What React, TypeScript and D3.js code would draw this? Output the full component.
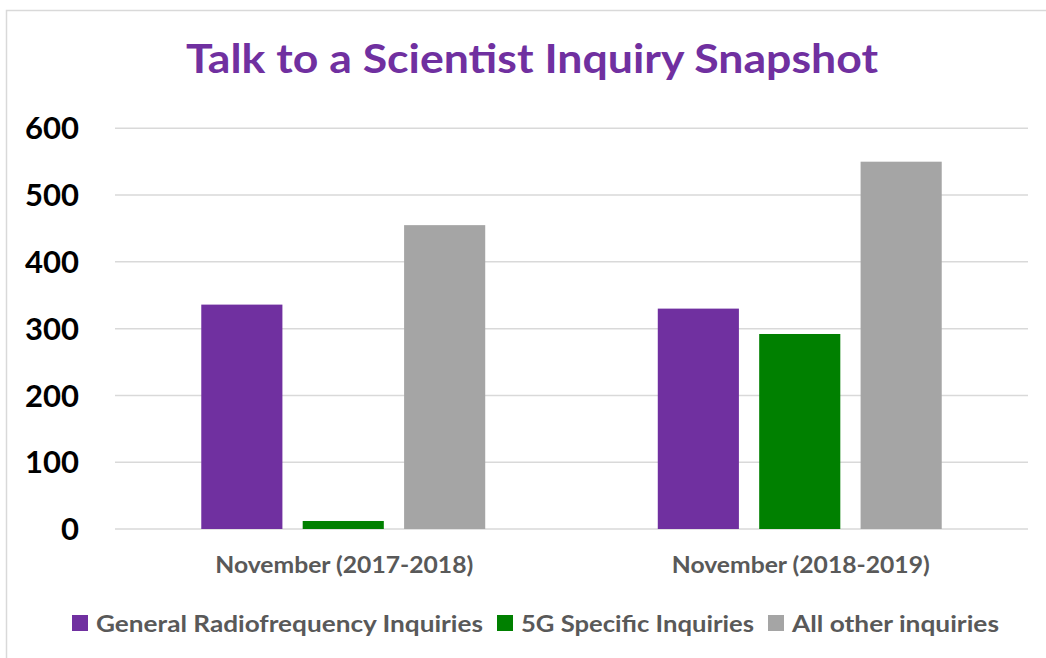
import { useEffect, useRef } from "react";
import * as d3 from "d3";

const W = 1046;
const H = 658;
const M = { top: 128.3, right: 18, bottom: 129, left: 115 };

const categories = ["November (2017-2018)", "November (2018-2019)"];
const seriesNames = ["General Radiofrequency Inquiries", "5G Specific Inquiries", "All other inquiries"];
const generalRF = [336, 330];
const fiveG = [12, 292];
const otherInq = [455, 550];
const yTicks = [0, 100, 200, 300, 400, 500, 600];
const colors = ["#7030A0", "#008000", "#A5A5A5"];
// widths the Calibri text takes in the original; Lato is narrower, so stretch to them
const legendWidths = [387, 233, 207];

const FONT = "Lato, 'Open Sans', sans-serif";

export default function App() {
  const ref = useRef<SVGSVGElement | null>(null);

  useEffect(() => {
    const svg = d3.select(ref.current);
    svg.selectAll("*").remove();

    const values = [generalRF, fiveG, otherInq];

    // frame
    svg.append("path")
      .attr("d", `M6.5,${H + 5} V10.5 H${W + 5}`)
      .attr("fill", "none")
      .attr("stroke", "#d9d9d9")
      .attr("stroke-width", 1.5);

    svg.append("text")
      .attr("x", 532)
      .attr("y", 73)
      .attr("text-anchor", "middle")
      .attr("font-family", FONT)
      .attr("font-weight", 700)
      .attr("font-size", 40)
      .attr("textLength", 692)
      .attr("lengthAdjust", "spacingAndGlyphs")
      .attr("fill", "#7030A0")
      .text("Talk to a Scientist Inquiry Snapshot");

    const y = d3.scaleLinear().domain([0, 600]).range([H - M.bottom, M.top]);
    const x0 = d3.scaleBand<string>()
      .domain(categories)
      .range([M.left, W - M.right])
      .paddingInner(0.378)
      .paddingOuter(0.189);
    const x1 = d3.scaleBand<string>()
      .domain(seriesNames)
      .range([0, x0.bandwidth()])
      .paddingInner(0.2)
      .paddingOuter(0);

    const grid = svg.append("g");
    yTicks.forEach((t) => {
      grid.append("line")
        .attr("x1", M.left).attr("x2", W - M.right)
        .attr("y1", y(t)).attr("y2", y(t))
        .attr("stroke", "#d9d9d9").attr("stroke-width", 1.5);
      grid.append("text")
        .attr("x", 79).attr("y", y(t)).attr("dy", "0.36em")
        .attr("text-anchor", "end")
        .attr("font-family", FONT).attr("font-weight", 700).attr("font-size", 31)
        .attr("fill", "#000")
        .text(String(t));
    });

    seriesNames.forEach((s, si) => {
      svg.append("g")
        .selectAll("rect")
        .data(categories)
        .join("rect")
        .attr("x", (c) => (x0(c) ?? 0) + (x1(s) ?? 0))
        .attr("width", x1.bandwidth())
        .attr("y", (_, i) => y(values[si][i]))
        .attr("height", (_, i) => y(0) - y(values[si][i]))
        .attr("fill", colors[si]);
    });

    categories.forEach((c) => {
      svg.append("text")
        .attr("x", (x0(c) ?? 0) + x0.bandwidth() / 2 + 1)
        .attr("y", 573)
        .attr("text-anchor", "middle")
        .attr("font-family", FONT).attr("font-weight", 700).attr("font-size", 22)
        .attr("textLength", 258)
        .attr("lengthAdjust", "spacingAndGlyphs")
        .attr("fill", "#595959")
        .text(c);
    });

    // legend, centred under the chart
    const lg = svg.append("g");
    const items = seriesNames.map((s, i) => {
      const g = lg.append("g");
      g.append("rect").attr("width", 16).attr("height", 16).attr("y", 615).attr("fill", colors[i]);
      g.append("text")
        .attr("x", 24).attr("y", 632)
        .attr("font-family", FONT).attr("font-weight", 700).attr("font-size", 23)
        .attr("textLength", legendWidths[i])
        .attr("lengthAdjust", "spacingAndGlyphs")
        .attr("fill", "#595959")
        .text(s);
      return { g, w: 24 + legendWidths[i] };
    });
    const gap = 14;
    const total = d3.sum(items, (d) => d.w) + gap * (items.length - 1);
    let cx = 535.5 - total / 2;
    items.forEach((it) => {
      it.g.attr("transform", `translate(${cx},0)`);
      cx += it.w + gap;
    });
  }, []);

  return (
    <svg
      ref={ref}
      width={W}
      height={H}
      style={{ position: "absolute", left: 0, top: 0, display: "block", background: "#fff" }}
    />
  );
}
